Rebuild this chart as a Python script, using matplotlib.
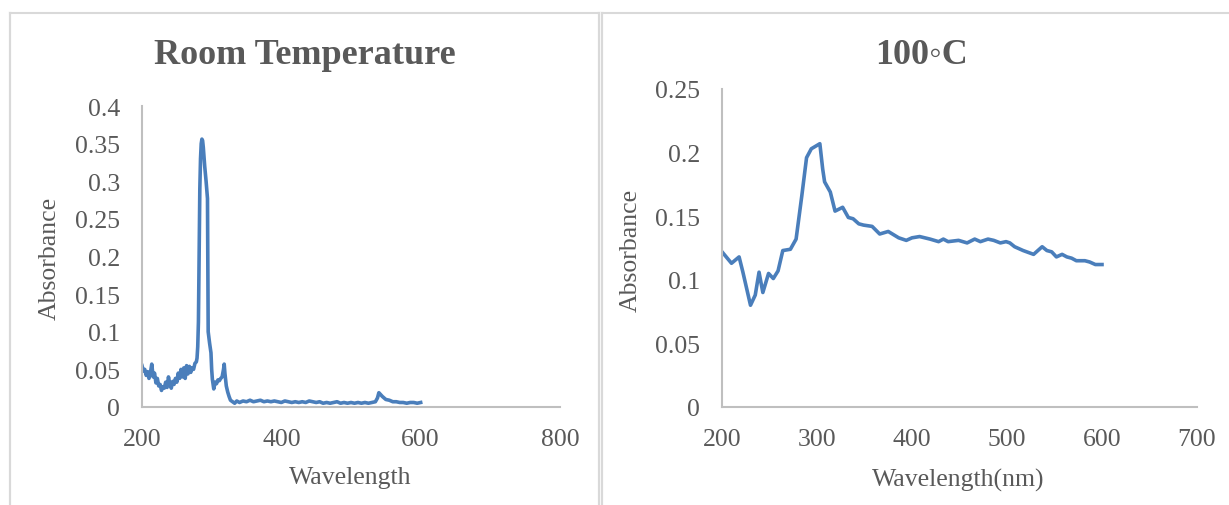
import numpy as np
import matplotlib
matplotlib.use("Agg")
import matplotlib.pyplot as plt
from matplotlib.lines import Line2D
from matplotlib.ticker import FuncFormatter

plt.rcParams['font.family'] = ['Liberation Serif', 'DejaVu Serif']

# room temperature spectrum
wl_room = [200, 202, 204, 206, 208, 210, 212, 214, 216, 218, 220, 222, 224, 226, 228,
           230, 232, 234, 236, 238, 240, 242, 244, 246, 248, 250, 252, 254, 256, 258,
           260, 262, 264, 266, 268, 270, 272, 274, 276, 278, 279, 280, 281, 282, 283,
           284, 285, 286, 287, 288, 290, 292, 294, 295, 297, 299, 300, 301, 303, 305,
           307, 309, 311, 313, 315, 317, 318, 319, 321, 323, 325, 327, 330, 333, 336,
           340, 345, 350, 355, 360, 365, 370, 375, 380, 385, 390, 395, 400, 405, 410,
           415, 420, 425, 430, 435, 440, 445, 450, 455, 460, 465, 470, 475, 480, 485,
           490, 495, 500, 505, 510, 515, 520, 525, 530, 535, 538, 540, 542, 545, 550,
           555, 560, 565, 570, 575, 580, 585, 590, 595, 600]
abs_room = [0.055, 0.048, 0.050, 0.042, 0.047, 0.038, 0.045, 0.057, 0.040, 0.045, 0.032,
            0.038, 0.028, 0.030, 0.022, 0.027, 0.025, 0.033, 0.026, 0.040, 0.030, 0.025,
            0.034, 0.030, 0.038, 0.033, 0.045, 0.038, 0.050, 0.040, 0.052, 0.038, 0.055,
            0.044, 0.054, 0.046, 0.052, 0.050, 0.058, 0.060, 0.065, 0.080, 0.113, 0.200,
            0.290, 0.330, 0.350, 0.356, 0.354, 0.345, 0.320, 0.300, 0.277, 0.100, 0.085,
            0.072, 0.050, 0.037, 0.024, 0.033, 0.031, 0.036, 0.035, 0.038, 0.040, 0.050,
            0.057, 0.045, 0.028, 0.020, 0.014, 0.009, 0.007, 0.005, 0.008, 0.006, 0.008,
            0.007, 0.009, 0.007, 0.008, 0.009, 0.007, 0.008, 0.007, 0.008, 0.007, 0.006,
            0.008, 0.007, 0.006, 0.007, 0.006, 0.007, 0.006, 0.008, 0.007, 0.006, 0.007,
            0.005, 0.006, 0.005, 0.006, 0.007, 0.005, 0.006, 0.005, 0.006, 0.005, 0.006,
            0.005, 0.006, 0.005, 0.006, 0.007, 0.012, 0.019, 0.017, 0.014, 0.010, 0.009,
            0.007, 0.007, 0.006, 0.006, 0.005, 0.006, 0.006, 0.005, 0.006]

# 100 C spectrum
wl_hot = [200, 210, 218, 222, 230, 235, 239, 243, 249, 254, 259, 264, 272, 278, 284,
          289, 294, 303, 306, 308, 314, 319, 327, 333, 338, 344, 349, 358, 366, 375,
          386, 394, 400, 408, 419, 428, 433, 438, 449, 458, 466, 472, 480, 486, 493,
          499, 503, 508, 517, 528, 531, 537, 542, 547, 552, 558, 563, 568, 573, 582,
          587, 593, 600]
abs_hot = [0.122, 0.113, 0.118, 0.106, 0.080, 0.088, 0.106, 0.090, 0.105, 0.101, 0.107,
           0.123, 0.124, 0.132, 0.166, 0.196, 0.203, 0.207, 0.187, 0.177, 0.169, 0.154,
           0.157, 0.149, 0.148, 0.144, 0.143, 0.142, 0.136, 0.138, 0.133, 0.131, 0.133,
           0.134, 0.132, 0.130, 0.132, 0.130, 0.131, 0.129, 0.132, 0.130, 0.132, 0.131,
           0.129, 0.130, 0.129, 0.126, 0.123, 0.120, 0.122, 0.126, 0.123, 0.122, 0.118,
           0.120, 0.118, 0.117, 0.115, 0.115, 0.114, 0.112, 0.112]

line_col = '#4A7EBB'
text_col = '#595959'
spine_col = '#BFBFBF'
border_col = '#D9D9D9'

W, H = 1229, 506
fig = plt.figure(figsize=(W / 100, H / 100), dpi=100)

# panel borders
for xs, ys in [([10, 10], [0, 14]), ([10, 599], [14, 14]), ([599, 599], [14, 0]),
               ([602, 602], [0, 14]), ([602, 1229], [14, 14])]:
    fig.add_artist(Line2D([x / W for x in xs], [1 - y / H if y else 0 for y in ys],
                          color=border_col, lw=1.5))
fig.add_artist(Line2D([10 / W, 10 / W], [0, 1 - 14 / H], color=border_col, lw=1.5))
fig.add_artist(Line2D([599 / W, 599 / W], [0, 1 - 14 / H], color=border_col, lw=1.5))
fig.add_artist(Line2D([602 / W, 602 / W], [0, 1 - 14 / H], color=border_col, lw=1.5))

ax1 = fig.add_axes([142 / W, 1 - 408 / H, 418 / W, 301 / H])
ax2 = fig.add_axes([722 / W, 1 - 408 / H, 475 / W, 318 / H])

ax1.plot(wl_room, abs_room, color=line_col, lw=2.6)
ax2.plot(wl_hot, abs_hot, color=line_col, lw=2.6)

ax1.set_xlim(200, 800)
ax1.set_ylim(0, 0.4)
ax1.set_xticks([200, 400, 600, 800])
ax1.set_yticks(np.arange(0, 0.41, 0.05))
ax2.set_xlim(200, 700)
ax2.set_ylim(0, 0.25)
ax2.set_xticks(range(200, 701, 100))
ax2.set_yticks(np.arange(0, 0.26, 0.05))

fmt = FuncFormatter(lambda v, p: '%g' % round(v, 2))
for ax in (ax1, ax2):
    ax.yaxis.set_major_formatter(fmt)
    for s in ('top', 'right'):
        ax.spines[s].set_visible(False)
    for s in ('left', 'bottom'):
        ax.spines[s].set_color(spine_col)
        ax.spines[s].set_linewidth(1.5)
    ax.tick_params(axis='both', length=0, labelsize=18.5, colors=text_col)
    ax.tick_params(axis='x', pad=15)
    ax.tick_params(axis='y', pad=16)
    ax.patch.set_alpha(0)

fig.text(305 / W, 1 - 55 / H, 'Room Temperature', ha='center', va='center',
         fontsize=26, fontweight='bold', color=text_col)
fig.text(922 / W, 1 - 55 / H, '100\u25e6C', ha='center', va='center',
         fontsize=26, fontweight='bold', color=text_col)
fig.text(50 / W, 1 - 258 / H, 'Absorbance', rotation=90, ha='center', va='center',
         fontsize=18.5, color=text_col)
fig.text(631 / W, 1 - 250 / H, 'Absorbance', rotation=90, ha='center', va='center',
         fontsize=18.5, color=text_col)
fig.text(350 / W, 1 - 478 / H, 'Wavelength', ha='center', va='center',
         fontsize=18.5, color=text_col)
fig.text(958 / W, 1 - 480 / H, 'Wavelength(nm)', ha='center', va='center',
         fontsize=18.5, color=text_col)

fig.savefig('out.png', dpi=100)
